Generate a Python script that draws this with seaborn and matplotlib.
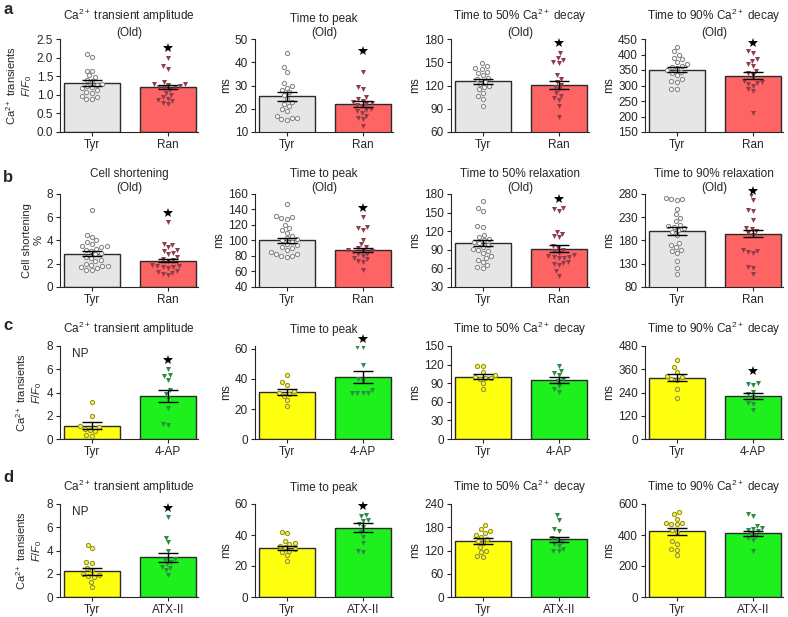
import numpy as np
import pandas as pd
import seaborn as sns
import matplotlib.pyplot as plt
from matplotlib.ticker import FormatStrFormatter

# ---- data ----
# row a: Ca2+ transients in old cells, Tyr vs Ran
a1_tyr = [2.10, 2.02, 1.65, 1.64, 1.52, 1.48, 1.40, 1.36, 1.30, 1.27, 1.25, 1.20, 1.17, 1.12, 1.08, 1.05, 0.98, 0.95, 0.90, 0.88]
a1_drug = [2.00, 1.78, 1.70, 1.35, 1.30, 1.28, 1.26, 1.24, 1.22, 1.20, 1.17, 1.14, 1.05, 1.00, 0.95, 0.90, 0.86, 0.82, 0.78, 0.75]
a2_tyr = [44, 38, 36, 31, 30, 29, 28, 27, 26, 24, 23, 22, 21, 20, 19, 17, 16, 16, 15.5, 15]
a2_drug = [36, 29.5, 28.5, 25, 24, 23.5, 23, 22.5, 22, 21.5, 21, 20, 19.5, 19, 18, 17, 16, 15.5, 12.5]
a3_tyr = [149, 145, 142, 141, 138, 136, 134, 130, 128, 125, 122, 120, 118, 115, 110, 106, 103, 94]
a3_drug = [162, 156, 153, 150, 149, 133, 128, 124, 121, 118, 115, 110, 107, 104, 101, 94, 79]
a4_tyr = [425, 410, 400, 390, 384, 375, 368, 364, 360, 355, 350, 345, 340, 335, 320, 315, 312, 290, 288]
a4_drug = [410, 405, 385, 378, 368, 362, 348, 340, 335, 315, 312, 308, 305, 300, 288, 282, 212]

# row b: cell shortening in old cells, Tyr vs Ran
b1_tyr = [6.6, 4.5, 4.3, 4.0, 3.9, 3.7, 3.5, 3.5, 3.4, 3.3, 3.2, 3.1, 2.9, 2.8, 2.6, 2.5, 2.3, 2.2, 2.0, 1.9, 1.8, 1.8, 1.7, 1.6, 1.5, 1.45]
b1_drug = [5.6, 3.7, 3.6, 3.4, 3.2, 3.1, 2.9, 2.8, 2.6, 2.4, 2.3, 2.2, 1.9, 1.8, 1.8, 1.7, 1.7, 1.6, 1.4, 1.3, 1.2, 1.1, 1.0]
b2_tyr = [147, 131, 130, 129, 128, 120, 116, 113, 110, 106, 103, 102, 100, 98, 96, 94, 92, 90, 88, 85, 83, 82, 80, 80, 79]
b2_drug = [130, 118, 116, 114, 101, 95, 92, 90, 88, 87, 86, 85, 83, 82, 80, 78, 76, 74, 72, 62]
b3_tyr = [168, 157, 152, 129, 127, 114, 110, 107, 105, 103, 101, 98, 95, 92, 90, 88, 85, 80, 77, 74, 70, 65, 62, 60]
b3_drug = [157, 155, 152, 119, 116, 112, 110, 96, 93, 90, 88, 85, 81, 80, 79, 78, 77, 76, 71, 69, 67, 65, 55, 48]
b4_tyr = [272, 270, 269, 268, 248, 236, 228, 222, 214, 212, 210, 206, 203, 198, 192, 175, 170, 165, 160, 157, 153, 135, 121, 108]
b4_drug = [278, 268, 246, 244, 225, 207, 205, 200, 196, 192, 160, 158, 155, 153, 124, 120, 108]

# row c: NP cells, Tyr vs 4-AP
c1_tyr = [3.2, 2.0, 1.1, 1.0, 0.9, 0.8, 0.65, 0.35, 0.3]
c1_drug = [6.0, 5.5, 5.4, 5.1, 4.2, 3.9, 3.5, 2.7, 1.3, 1.2]
c2_tyr = [43, 38, 36, 32, 31, 30, 29, 26, 22]
c2_drug = [61.5, 61.5, 49.5, 40, 39, 33, 31, 31, 30.5, 30.5]
c3_tyr = [118, 117, 108, 104, 100, 99, 98, 97, 90, 80]
c3_drug = [118, 110, 107, 103, 95, 93, 85, 80, 76]
c4_tyr = [410, 372, 348, 325, 318, 312, 305, 260, 212]
c4_drug = [290, 285, 280, 245, 230, 215, 185, 180, 150]

# row d: NP cells, Tyr vs ATX-II
d1_tyr = [4.5, 4.2, 3.0, 2.9, 2.5, 2.3, 2.0, 1.9, 1.8, 1.7, 1.3, 0.85]
d1_drug = [6.9, 5.1, 4.7, 4.0, 3.3, 3.2, 3.0, 2.8, 2.6, 2.5, 2.3, 1.9]
d2_tyr = [42, 41, 36, 35, 34, 33, 32, 31, 30, 29, 27, 23]
d2_drug = [53, 52, 50, 49, 47, 45, 42, 39, 35, 30, 29]
d3_tyr = [186, 176, 170, 166, 160, 155, 150, 145, 140, 128, 120, 115, 105, 102]
d3_drug = [212, 200, 176, 170, 152, 148, 142, 138, 132, 125, 120, 118]
d4_tyr = [548, 535, 505, 480, 475, 470, 468, 435, 420, 360, 340, 310, 305, 268]
d4_drug = [535, 525, 460, 445, 440, 430, 425, 405, 395, 380, 370, 300]

# bar means and SEM (tyr, drug) per panel
means = {
    'a': [(1.32, 1.21), (25.3, 22.0), (125.4, 121), (351, 332)],
    'b': [(2.88, 2.27), (100, 88.3), (101, 92), (200, 195)],
    'c': [(1.14, 3.7), (31.1, 41.2), (100.7, 95.3), (317, 220)],
    'd': [(2.2, 3.4), (31.9, 44.7), (145, 149), (424, 411)],
}
sems = {
    'a': [(0.07, 0.06), (1.8, 1.2), (3.5, 5), (8, 10)],
    'b': [(0.2, 0.15), (3, 2.5), (4.5, 5), (8, 8)],
    'c': [(0.28, 0.55), (2, 3.9), (3.5, 4.5), (18, 15)],
    'd': [(0.3, 0.4), (1.3, 3), (7, 7), (22, 16)],
}
stars = {
    'a': [2.25, 45, 175, 437],
    'b': [6.35, 142, 172, 287],
    'c': [6.8, 66.5, None, 353],
    'd': [7.65, 58.5, None, None],
}
groups = {
    'a': ['Tyr', 'Ran'], 'b': ['Tyr', 'Ran'],
    'c': ['Tyr', '4-AP'], 'd': ['Tyr', 'ATX-II'],
}
titles_old_a = ['Ca$^{2+}$ transient amplitude\n(Old)', 'Time to peak\n(Old)',
                'Time to 50% Ca$^{2+}$ decay\n(Old)', 'Time to 90% Ca$^{2+}$ decay\n(Old)']
titles_old_b = ['Cell shortening\n(Old)', 'Time to peak\n(Old)',
                'Time to 50% relaxation\n(Old)', 'Time to 90% relaxation\n(Old)']
titles_np = ['Ca$^{2+}$ transient amplitude', 'Time to peak',
             'Time to 50% Ca$^{2+}$ decay', 'Time to 90% Ca$^{2+}$ decay']
ylims = {
    'a': [(0, 2.5), (10, 50), (60, 180), (150, 450)],
    'b': [(0, 8), (40, 160), (30, 180), (80, 280)],
    'c': [(0, 8), (0, 62), (0, 150), (0, 480)],
    'd': [(0, 8), (0, 60), (0, 240), (0, 600)],
}
ytick_steps = {
    'a': [0.5, 10, 30, 50],
    'b': [2, 20, 30, 50],
    'c': [2, 20, 30, 120],
    'd': [2, 20, 60, 200],
}

sns.set_style('ticks')
plt.rcParams['font.family'] = ['Liberation Sans', 'DejaVu Sans']
plt.rcParams['mathtext.fontset'] = 'custom'
plt.rcParams['mathtext.rm'] = 'Liberation Sans'
plt.rcParams['mathtext.it'] = 'Liberation Sans:italic'
plt.rcParams['font.size'] = 8


def draw_panel(ax, grp, tyr_vals, drug_vals, mean, sem, row, col, title, star):
    old = row in ('a', 'b')
    bar_colors = ['#e6e6e6', '#ff6464'] if old else ['#ffff10', '#1ef01e']
    sns.barplot(x=grp, y=list(mean), hue=grp, palette=bar_colors, order=grp,
                hue_order=grp, width=0.74, edgecolor='#2a2a2a', linewidth=1,
                saturation=1, errorbar=None, legend=False, ax=ax, zorder=1)

    df_t = pd.DataFrame({'g': grp[0], 'v': tyr_vals})
    df_d = pd.DataFrame({'g': grp[1], 'v': drug_vals})
    if old:
        sns.swarmplot(data=df_t, x='g', y='v', order=grp, marker='o', size=3,
                      color='white', edgecolor='#8a8a8a', linewidth=0.8, ax=ax, zorder=3)
        sns.swarmplot(data=df_d, x='g', y='v', order=grp, marker='v', size=3.6,
                      color='#8e3d4c', linewidth=0, ax=ax, zorder=3)
    else:
        sns.swarmplot(data=df_t, x='g', y='v', order=grp, marker='o', size=3,
                      color='#f4f06a', edgecolor='#9a9a10', linewidth=0.8, ax=ax, zorder=3)
        sns.swarmplot(data=df_d, x='g', y='v', order=grp, marker='v', size=3.6,
                      color='#2e8b45', linewidth=0, ax=ax, zorder=3)

    ax.errorbar([0, 1], mean, yerr=sem, fmt='none', ecolor='black',
                elinewidth=1, capsize=7, capthick=1, zorder=5)
    if star is not None:
        ax.plot([1], [star], marker='*', color='black', markersize=7,
                markeredgewidth=0, linestyle='none', clip_on=False, zorder=6)

    lo, hi = ylims[row][col]
    step = ytick_steps[row][col]
    ax.set_ylim(lo, hi)
    ax.set_yticks(np.arange(lo, hi + step * 0.01, step))
    if row == 'a' and col == 0:
        ax.yaxis.set_major_formatter(FormatStrFormatter('%.1f'))
    ax.set_xlim(-0.42, 1.4)
    ax.set_xlabel('')
    if col == 0:
        if row == 'b':
            ax.set_ylabel('Cell shortening\n%', fontsize=8, labelpad=2)
        else:
            ax.set_ylabel('Ca$^{2+}$ transients\n$F/F_0$', fontsize=8, labelpad=2)
        if row in ('c', 'd'):
            ax.text(0.09, 0.91, 'NP', transform=ax.transAxes, fontsize=8.5, va='center')
    else:
        ax.set_ylabel('ms', fontsize=8.5, labelpad=2)
    ax.set_title(title, fontsize=8.5, pad=0 if old else 9)
    ax.tick_params(axis='both', labelsize=8.5, length=3, width=0.8, pad=2)
    sns.despine(ax=ax)
    for s in ('left', 'bottom'):
        ax.spines[s].set_linewidth(0.8)


fig = plt.figure(figsize=(7.88, 6.17), dpi=100)
W, H = 788, 617
col_left = [60, 255, 451, 645]
row_top = {'a': 39, 'b': 194, 'c': 346, 'd': 504}
axw, axh = 138, 93

raw = {
    'a': [(a1_tyr, a1_drug), (a2_tyr, a2_drug), (a3_tyr, a3_drug), (a4_tyr, a4_drug)],
    'b': [(b1_tyr, b1_drug), (b2_tyr, b2_drug), (b3_tyr, b3_drug), (b4_tyr, b4_drug)],
    'c': [(c1_tyr, c1_drug), (c2_tyr, c2_drug), (c3_tyr, c3_drug), (c4_tyr, c4_drug)],
    'd': [(d1_tyr, d1_drug), (d2_tyr, d2_drug), (d3_tyr, d3_drug), (d4_tyr, d4_drug)],
}
titles = {'a': titles_old_a, 'b': titles_old_b, 'c': titles_np, 'd': titles_np}

for row in ['a', 'b', 'c', 'd']:
    for col in range(4):
        t = row_top[row]
        ax = fig.add_axes([col_left[col] / W, 1 - (t + axh) / H, axw / W, axh / H])
        tyr_vals, drug_vals = raw[row][col]
        draw_panel(ax, groups[row], tyr_vals, drug_vals, means[row][col],
                   sems[row][col], row, col, titles[row][col], stars[row][col])

letter_y = {'a': 10, 'b': 178, 'c': 326, 'd': 478}
for row, y in letter_y.items():
    fig.text(8 / W, 1 - y / H, row, fontsize=12, fontweight='bold', va='center', ha='center')

fig.savefig('out.png', dpi=100)
